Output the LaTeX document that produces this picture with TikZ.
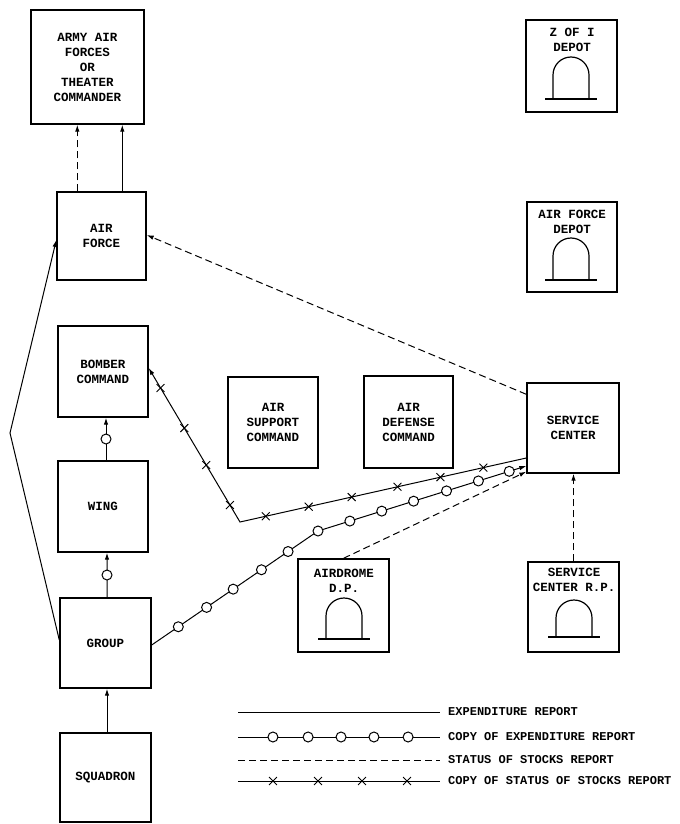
\documentclass[tikz,border=0pt]{standalone}
\usepackage{fontspec}
\newfontfamily\twfont{Liberation Mono}
\usetikzlibrary{arrows.meta,shapes.misc,calc}
\newcommand\deparch[4]{%
  \draw[archline] (#1-18,#3) -- (#1-18,#2+18) arc[start angle=180,end angle=0,radius=18bp] -- (#1+18,#3);
  \draw[archline] (#1-#4,#3) -- (#1+#4,#3);}
\tikzset{
  txt/.style={font=\twfont\bfseries\fontsize{12.5bp}{15bp}\selectfont},
  ltxt/.style={font=\twfont\bfseries\fontsize{12bp}{15bp}\selectfont},
  box/.style={draw, line width=1.4bp, inner sep=0pt, align=center, txt},
  lbl/.style={inner sep=0pt, align=center, txt},
  conn/.style={line width=1bp},
  archline/.style={line width=1.2bp},
  arr/.style={-{Latex[length=7bp,width=4.5bp]}},
  rarr/.style={{Latex[length=7bp,width=4.5bp]}-},
  sdash/.style={dash pattern=on 7bp off 4bp},
  circ/.style={circle, draw, fill=white, line width=1bp, minimum size=10bp, inner sep=0pt},
  xmk/.style={cross out, draw, line width=0.9bp, minimum size=7bp, inner sep=0pt},
}
\begin{document}
\begin{tikzpicture}[x=1bp,y=-1bp]
\fill[white] (0,0) rectangle (680,824);
\useasboundingbox (0,0) rectangle (680,824);

% command chain
\node[box, minimum width=113bp, minimum height=114bp] (army) at (87.5,67) {ARMY AIR\\FORCES\\OR\\THEATER\\COMMANDER};
\node[box, minimum width=89bp, minimum height=88bp] (airforce) at (101.5,236) {AIR\\FORCE};
\node[box, minimum width=90bp, minimum height=91bp] (bomber) at (103,371.5) {BOMBER\\COMMAND};
\node[box, minimum width=90bp, minimum height=91bp] (wing) at (103,506.5) {WING};
\node[box, minimum width=91bp, minimum height=90bp] (group) at (105.5,643) {GROUP};
\node[box, minimum width=91bp, minimum height=89bp] (squadron) at (105.5,777.5) {SQUADRON};
\node[box, minimum width=90bp, minimum height=91bp] (airsup) at (273,422.5) {AIR\\SUPPORT\\COMMAND};
\node[box, minimum width=89bp, minimum height=92bp] (airdef) at (408.5,422) {AIR\\DEFENSE\\COMMAND};
\node[box, minimum width=92bp, minimum height=90bp] (sc) at (573,428) {SERVICE\\CENTER};

% depots
\node[box, minimum width=91bp, minimum height=92bp] (zoi) at (571.5,66) {};
\node[lbl] (zoit) at (572,40) {Z OF I\\DEPOT};
\deparch{571}{57}{99}{26}
\node[box, minimum width=90bp, minimum height=90bp] (afd) at (572,247) {};
\node[lbl] (afdt) at (572,222) {AIR FORCE\\DEPOT};
\deparch{571}{238}{280}{26}
\node[box, minimum width=91bp, minimum height=93bp] (adp) at (343.5,605.5) {};
\node[lbl] (adpt) at (344,581) {AIRDROME\\D.P.};
\deparch{344}{598}{639}{26}
\node[box, minimum width=91bp, minimum height=90bp] (scrp) at (573.5,607) {};
\node[lbl] (scrpt) at (574,580) {SERVICE\\CENTER R.P.};
\deparch{574}{600}{637}{26}

% connectors
\draw[conn,sdash,arr] ([xshift=21bp]airforce.north west) coordinate (d1) -- (d1 |- army.south);
\draw[conn,arr] ([xshift=66bp]airforce.north west) coordinate (d2) -- (d2 |- army.south);
\draw[conn,arr] ([xshift=3bp]wing.north) -- node[circ]{} ([xshift=3bp]bomber.south);
\draw[conn,arr] ([xshift=1.5bp]group.north) -- node[circ]{} ([xshift=4bp]wing.south);
\draw[conn,arr] ([xshift=1.5bp]squadron.north) -- ([xshift=1.5bp]group.south);
\coordinate (lbend) at (10,433);
\draw[conn,arr] ([yshift=3bp]group.west) -- (lbend) -- ([yshift=-4bp]airforce.west);
\draw[conn,sdash,arr] ([yshift=-12bp]sc.north west) -- ([yshift=1bp]airforce.east);

\coordinate (xbend) at (240,522);
\draw[conn,rarr] ([yshift=3.5bp]bomber.east)
  -- node[xmk,pos=.13]{} node[xmk,pos=.39]{} node[xmk,pos=.63]{} node[xmk,pos=.89]{} (xbend)
  -- node[xmk,pos=.09]{} node[xmk,pos=.24]{} node[xmk,pos=.39]{} node[xmk,pos=.55]{} node[xmk,pos=.70]{} node[xmk,pos=.85]{} ([yshift=-30bp]sc.west);

\coordinate (obend) at (318,531);
\draw[conn,arr] ([yshift=-2bp]group.east)
  -- node[circ,pos=.16]{} node[circ,pos=.33]{} node[circ,pos=.49]{} node[circ,pos=.66]{} node[circ,pos=.82]{} (obend) node[circ]{}
  -- node[circ,pos=.153]{} node[circ,pos=.306]{} node[circ,pos=.459]{} node[circ,pos=.617]{} node[circ,pos=.77]{} node[circ,pos=.918]{} ([yshift=-38bp]sc.west);

\draw[conn,sdash,arr] (adp.north) -- ([yshift=2bp]sc.south west);
\draw[conn,sdash,arr] (scrp.north) -- (scrp.north |- sc.south);

% legend
\coordinate (l1a) at (238,712); \coordinate (l1b) at (440,712);
\coordinate (l2a) at (238,737); \coordinate (l2b) at (440,737);
\coordinate (l3a) at (238,760); \coordinate (l3b) at (440,760);
\coordinate (l4a) at (238,781); \coordinate (l4b) at (440,781);
\draw[conn] (l1a) -- (l1b);
\draw[conn] (l2a) -- node[circ,pos=.173]{} node[circ,pos=.347]{} node[circ,pos=.51]{} node[circ,pos=.673]{} node[circ,pos=.842]{} (l2b);
\draw[conn,sdash] (l3a) -- (l3b);
\draw[conn] (l4a) -- node[xmk,pos=.173]{} node[xmk,pos=.396]{} node[xmk,pos=.614]{} node[xmk,pos=.837]{} (l4b);
\node[lbl, ltxt, anchor=west] (t1) at (448,712) {EXPENDITURE REPORT};
\node[lbl, ltxt, anchor=west] (t2) at (448,737) {COPY OF EXPENDITURE REPORT};
\node[lbl, ltxt, anchor=west] (t3) at (448,760) {STATUS OF STOCKS REPORT};
\node[lbl, ltxt, anchor=west] (t4) at (448,781) {COPY OF STATUS OF STOCKS REPORT};
\end{tikzpicture}
\end{document}
